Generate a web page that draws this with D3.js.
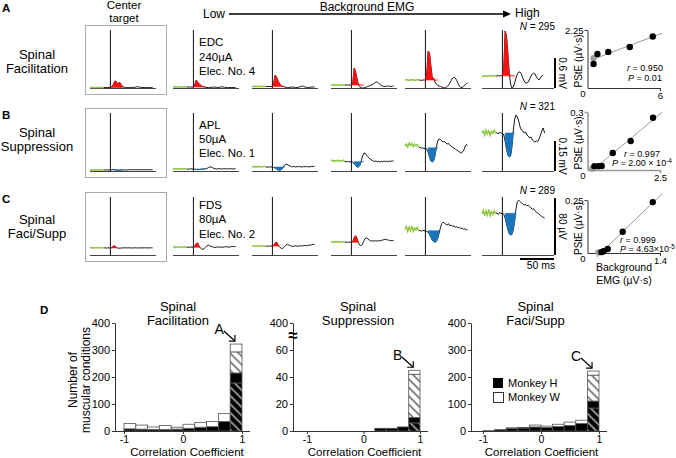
<!DOCTYPE html>
<html><head><meta charset="utf-8">
<script src="https://cdn.jsdelivr.net/npm/d3@7"></script>
<style>body{margin:0;background:#fff}svg{display:block;font-family:"Liberation Sans",Arial,sans-serif}</style>
</head><body><svg id="c" width="676" height="458"></svg>
<script>
// ---------------- DATA ----------------
const rowLetters = ["A", "B", "C"];
const rowLabels = [["Spinal", "Facilitation"], ["Spinal", "Suppression"], ["Spinal", "Faci/Supp"]];
const stimLabels = [["EDC", "240µA", "Elec. No. 4"], ["APL", "50µA", "Elec. No. 1"], ["FDS", "80µA", "Elec. No. 2"]];
const nValues = [295, 321, 289];
const scaleBarValues = [0.6, 0.15, 80];
const scaleBarLabels = ["0.6 mV", "0.15 mV", "80 µV"];
const timeStart = -30, timeStep = 2; // ms, sample grid of the averaged EMG traces

// Row A (mV)
const traceA0 = [0.01,0.01,0.012,0.01,0.008,0.01,0.012,0.01,0.01,0.012,0.01, 0.01,0.01,0.012,0.01,0.01, 0.02,0.06,0.13,0.14,0.09,0.1,0.11,0.06,0.03,0.015, 0.01,0.01,0.008,0.01,0.01,0.012,0.01,0.015,0.02,0.03,0.02,0.015,0.01,0.01,0.012,0.01,0.01,0.012,0.01,0.01,0.01];
const traceA1 = [0.02,0.02,0.025,0.02,0.02,0.025,0.02,0.02,0.025,0.02,0.02, 0.02,0.02,0.02,0.02,0.02, 0.06,0.16,0.13,0.09,0.06,0.04,0.03,0.02,0.015,0.01, 0.01,0.01,0.015,0.015,0.02,0.015,0.01,0.01,0.015,0.02,0.025,0.02,0.015,0.01,0.01,0.01,0.01,0.01,0.01,0.01,0.01];
const traceA2 = [0.03,0.03,0.035,0.03,0.03,0.035,0.03,0.03,0.035,0.03,0.03, 0.03,0.03,0.03,0.03,0.03, 0.1,0.26,0.22,0.15,0.1,0.06,0.04,0.03,0.02,0.015, 0.01,0.01,0.015,0.015,0.02,0.015,0.01,0.01,0.015,0.02,0.03,0.04,0.03,0.02,0.015,0.01,0.01,0.015,0.02,0.02,0.02];
const traceA3 = [0.06,0.06,0.065,0.06,0.055,0.06,0.065,0.06,0.06,0.065,0.06, 0.06,0.06,0.06,0.06,0.06, 0.1,0.4,0.34,0.2,0.08,0.03,0.01,0.0,0.0,0.01,0.02,0.03,0.04,0.05,0.06,0.08,0.1,0.12,0.12,0.1,0.07,0.05,0.04,0.03,0.03,0.035,0.04,0.035,0.03,0.035,0.04];
const traceA4 = [0.16,0.17,0.16,0.15,0.16,0.17,0.16,0.15,0.16,0.17,0.16, 0.16,0.15,0.16,0.16,0.16, 0.3,0.74,0.7,0.45,0.2, 0.2,0.12,0.08,0.05,0.04,0.03,0.02,0.01,0.0,0.01,0.03,0.06,0.1,0.15,0.2,0.22,0.2,0.15,0.09,0.04,0.01,0.01,0.03,0.06,0.09,0.1];
const traceA5 = [0.24,0.23,0.25,0.24,0.23,0.25,0.24,0.25,0.24,0.25,0.24, 0.24,0.25,0.24,0.25,0.24, 0.4,1.14,1.05,0.7,0.3, 0.08,0.0,0.02,0.1,0.2,0.28,0.32,0.32,0.28,0.2,0.14,0.1,0.1,0.12,0.18,0.24,0.28,0.3,0.28,0.22,0.18,0.16,0.2,0.24,0.26];
// Row B (mV)
const traceB0 = [0.005,0.006,0.005,0.004,0.006,0.005,0.006,0.005,0.004,0.006,0.005, 0.005,0.006,0.005,0.005,0.005, 0.006,0.008,0.007,0.005,0.005,0.004,0.004,0.005,0.005,0.006,0.005,0.005,0.006,0.007,0.006,0.007,0.006,0.007,0.006,0.007,0.006,0.006,0.007,0.006,0.006,0.007,0.006,0.006,0.006,0.007,0.006];
const traceB1 = [0.01,0.012,0.009,0.011,0.01,0.012,0.009,0.011,0.01,0.012,0.01, 0.01,0.009,0.011,0.01,0.01, 0.009,0.008,0.007,0.007,0.008,0.009,0.01,0.01,0.011,0.013,0.017,0.02,0.02,0.017,0.013,0.011,0.01,0.011,0.012,0.011,0.01,0.011,0.012,0.011,0.01,0.011,0.012,0.011,0.01,0.011,0.012];
const traceB2 = [0.02,0.023,0.019,0.022,0.02,0.024,0.019,0.022,0.021,0.023,0.02, 0.02,0.019,0.021,0.02,0.02, 0.018,0.015,0.01,0.006,0.004,0.005,0.009,0.02,0.03,0.035,0.032,0.028,0.025,0.022,0.021,0.023,0.02,0.022,0.021,0.023,0.021,0.02,0.022,0.021,0.023,0.02,0.022,0.021,0.023,0.022,0.024];
const traceB3 = [0.05,0.054,0.047,0.052,0.049,0.055,0.047,0.052,0.05,0.054,0.048, 0.047,0.046,0.048,0.045,0.046, 0.044,0.038,0.028,0.021,0.02,0.026,0.045,0.07,0.088,0.09,0.08,0.072,0.065,0.058,0.055,0.05,0.048,0.05,0.046,0.049,0.045,0.048,0.046,0.05,0.047,0.049,0.046,0.05,0.048,0.051,0.049];
const traceB4 = [0.125,0.135,0.12,0.14,0.128,0.138,0.122,0.134,0.126,0.132,0.12, 0.118,0.114,0.116,0.112,0.115, 0.11,0.095,0.07,0.05,0.045,0.05,0.075,0.115,0.15,0.16,0.158,0.15,0.145,0.148,0.14,0.135,0.138,0.128,0.125,0.118,0.115,0.11,0.105,0.1,0.095,0.09,0.095,0.1,0.12,0.132,0.128];
const traceB5 = [0.19,0.2,0.18,0.205,0.185,0.2,0.178,0.198,0.188,0.205,0.19, 0.192,0.185,0.195,0.188,0.19, 0.18,0.15,0.11,0.08,0.07,0.075,0.12,0.2,0.26,0.28,0.27,0.25,0.22,0.205,0.2,0.19,0.195,0.18,0.175,0.165,0.17,0.155,0.15,0.145,0.15,0.148,0.16,0.18,0.2,0.215,0.19];
// Row C (µV)
const traceC0 = [10,10.5,9.8,10.3,10,10.4,9.9,10.2,10,10.3,10, 10,9.8,10,10,10, 10.5,12,13,11,10,9.5,9.6,10,9.8,10,10.2,9.9,10,10.1,9.8,10,9.9,10.1,10,9.8,10,10.1,9.9,10,10.2,10,10.1,9.9,10,10.1,10];
const traceC1 = [11,11.5,10.6,11.4,10.8,11.6,10.7,11.3,11,11.5,10.9, 11,10.8,11.2,11,11, 12,16,17,13,10,8.5,8,9,11,13,14,13,12,11.5,11,10.5,11,11.5,11,10.8,11.2,11,11.5,11.8,11.2,11,11.4,11.8,12,11.6,11.8];
const traceC2 = [12.5,13,12.2,13.1,12.4,13.2,12.3,12.9,12.5,13,12.4, 12.5,12.3,12.7,12.5,12.5, 13.5,17,18,15,12,10,9,10,12,14,15,14,13,12.5,12,12.5,13,12.5,12.2,12.8,13,12.6,13.2,13.5,13,13.4,14,13.8,14.5,15,15.2];
const traceC3 = [18,19,17.5,18.8,17.8,19.2,17.6,18.6,18,19,18, 18,17.8,18.2,18,18, 19,24,27,24,18,14,13,15,19,23,24,23,21,20,19.5,20,19.6,20,19.5,20.2,19.8,20.5,21,21.5,22,21.6,21,20.5,20,20.4,20];
const traceC4 = [36,40,33,39,34,41,33,38,35,39,34, 35,33,35,34,34, 33,32,29,25,21,19,18,19,23,30,38,44,46,45,43,42,44,41,42,40,41,39,40,38,39,37,38,36,37,35,36];
const traceC5 = [58,63,55,62,56,64,55,61,57,62,58, 59,57,60,58,59, 57,52,44,36,30,28,29,35,48,65,75,77,75,73,72,70,71,69,70,68,66,64,65,62,60,59,57,56,54,53,52];

const rowTraces = [
  [traceA0, traceA1, traceA2, traceA3, traceA4, traceA5],
  [traceB0, traceB1, traceB2, traceB3, traceB4, traceB5],
  [traceC0, traceC1, traceC2, traceC3, traceC4, traceC5]
];
const pseKind = [
  ["fac","fac","fac","fac","fac","fac"],
  ["sup","sup","sup","sup","sup","sup"],
  ["fac","fac","fac","fac","sup","sup"]
];
const pseWindow = [[[0,18]],[[4,18]],[[0,10],[4,20]]];

// scatter (Background EMG, PStE)
const scatterAX = [0.5, 0.82, 1.72, 3.5, 5.4];
const scatterAY = [0.93, 1.32, 1.40, 1.59, 2.0];
const scatterAGray = [0.5, 1.16];
const scatterBX = [0.24, 0.38, 0.49, 0.87, 1.49, 2.26];
const scatterBY = [0.02, 0.02, 0.021, 0.088, 0.150, 0.27];
const scatterBGray = [0.17, 0.008];
const scatterCX = [0.27, 0.31, 0.39, 0.68, 1.26];
const scatterCY = [0.004, 0.008, 0.019, 0.10, 0.24];
const scatterCGray = [0.21, 0.003];
const scatterXMax = [6, 2.5, 1.4];
const scatterYMax = [2.25, 0.3, 0.25];
const statR = ["0.950", "0.997", "0.999"];
const statP = [["0.01", null], ["2.00 × 10", "-4"], ["4.63×10", "-5"]];

// histograms (bins of correlation coefficient)
const binStarts = [-1, -0.8, -0.6, -0.4, -0.2, 0, 0.2, 0.4, 0.6, 0.8];
const facHsig = [0,0,0,0,0,0,0,0,0,178];
const facHnon = [8,7,6,6,7,10,14,16,35,37];
const facWsig = [0,0,0,0,0,0,0,0,0,78];
const facWnon = [20,15,9,14,7,15,18,19,30,29];
const supHsig = [0,0,0,0,0,0,0,0,0,6];
const supHnon = [0,0,0,0,0,0,2,2,3,4];
const supWsig = [0,0,0,0,0,0,0,0,0,32];
const supWnon = [0,0,0,0,0,0,0,0,0,3];
const fsHsig = [0,0,0,0,0,0,0,0,0,85];
const fsHnon = [1,5,10,11,15,13,17,20,28,26];
const fsWsig = [0,0,0,0,0,0,0,0,0,96];
const fsWnon = [0,0,2,2,7,5,8,13,12,15];
const histTitles = [["Spinal","Facilitation"],["Spinal","Suppression"],["Spinal","Faci/Supp"]];
const histArrowLabels = ["A","B","C"];
const histYTicks = [[0,100,200,300,400],[0,20,40,60,400],[0,100,200,300,400]];
const legendLabels = ["Monkey H", "Monkey W"];

// ---------------- DRAW ----------------
const svg = d3.select("#c");
svg.append("rect").attr("width", 676).attr("height", 458).attr("fill", "#fff");
const defs = svg.append("defs");
function hatch(id, bg, fg) {
  const p = defs.append("pattern").attr("id", id).attr("patternUnits", "userSpaceOnUse")
    .attr("width", 6).attr("height", 6).attr("patternTransform", "rotate(-45)");
  p.append("rect").attr("width", 6).attr("height", 6).attr("fill", bg);
  p.append("line").attr("x1", 3).attr("y1", 0).attr("x2", 3).attr("y2", 6).attr("stroke", fg).attr("stroke-width", 1.1);
}
hatch("hatchBlack", "#000", "#fff");
hatch("hatchWhite", "#fff", "#222");

const FONT = '"Liberation Sans", Arial, sans-serif';
function text(x, y, s, size, opts = {}) {
  const t = svg.append("text").attr("x", x).attr("y", y).text(s)
    .attr("font-size", size).attr("font-family", FONT).attr("fill", opts.fill || "#000");
  if (opts.anchor) t.attr("text-anchor", opts.anchor);
  if (opts.weight) t.attr("font-weight", opts.weight);
  if (opts.style) t.attr("font-style", opts.style);
  return t;
}

const GREEN = "#8cc63f", RED = "#ff1010", BLUE = "#1b75bc";
const rowBase = [88, 171, 255];
const colLeft = [90, 173, 252, 331, 405, 482];
const rowScalePx = [30, 30, 57];

// header
text(124, 8.5, "Center", 11.5, {anchor: "middle"});
text(124, 21.5, "target", 11.5, {anchor: "middle"});
text(203, 18, "Low", 12);
text(367, 10.5, "Background EMG", 12, {anchor: "middle"});
text(515, 17, "High", 12);
svg.append("line").attr("x1", 229).attr("x2", 505).attr("y1", 14).attr("y2", 14).attr("stroke", "#000").attr("stroke-width", 1.5);
svg.append("path").attr("d", "M503,10.5 L511,14 L503,17.5 Z").attr("fill", "#000");

rowTraces.forEach((traces, r) => {
  const base = rowBase[r];
  const y = d3.scaleLinear().domain([0, scaleBarValues[r]]).range([base, base - rowScalePx[r]]);
  const letterY = [12, 119, 203][r];
  text(2, letterY, rowLetters[r], 11.5, {weight: "bold"});
  const lab = [[58.5, 73], [136.5, 151], [223.5, 238]][r];
  text(37, lab[0], rowLabels[r][0], 13, {anchor: "middle"});
  text(37, lab[1], rowLabels[r][1], 13, {anchor: "middle"});
  const stimY = [[46, 60.5, 75], [129, 143, 157], [208.5, 223, 237.5]][r];
  stimLabels[r].forEach((s, k) => text(199, stimY[k], s, 11.5));
  const nt = text(555, [30, 110, 194][r], "", 10, {anchor: "end"});
  nt.append("tspan").attr("font-style", "italic").text("N");
  nt.append("tspan").text(" = " + nValues[r]);
  svg.append("rect").attr("x", 85.5).attr("y", base - 62.5).attr("width", 81).attr("height", 69)
    .attr("fill", "none").attr("stroke", "#aaa").attr("stroke-width", 1);

  traces.forEach((vals, c) => {
    const left = colLeft[c];
    const tx = d3.scaleLinear().domain([-30, 66]).range([left, left + 65.3]);
    const pts = vals.map((v, i) => ({t: timeStart + i * timeStep, v}));
    const g = svg.append("g");
    const xEnd = c === 5 ? 554 : left + 66;
    g.append("line").attr("x1", left).attr("x2", xEnd).attr("y1", base + 0.5).attr("y2", base + 0.5)
      .attr("stroke", "#444").attr("stroke-width", 1);
    g.append("line").attr("x1", tx(0)).attr("x2", tx(0)).attr("y1", base - 58).attr("y2", base)
      .attr("stroke", "#111").attr("stroke-width", 1);
    const line = d3.line().x(p => tx(p.t)).y(p => y(p.v));
    g.append("path").attr("d", line(pts.filter(p => p.t >= -10))).attr("fill", "none")
      .attr("stroke", "#000").attr("stroke-width", 0.9);
    g.append("path").attr("d", line(pts.filter(p => p.t <= -10))).attr("fill", "none")
      .attr("stroke", GREEN).attr("stroke-width", 1.4);
    const kind = pseKind[r][c];
    const win = pseWindow[r][kind === "sup" && r === 2 ? 1 : 0];
    const ref = d3.mean(pts.filter(p => p.t >= -10 && p.t <= 0), p => p.v);
    const wp = pts.filter(p => p.t >= win[0] && p.t <= win[1]);
    const area = d3.area().x(p => tx(p.t)).y0(y(ref))
      .y1(p => y(kind === "fac" ? Math.max(p.v, ref) : Math.min(p.v, ref)));
    const col = kind === "fac" ? RED : BLUE;
    g.append("path").attr("d", area(wp)).attr("fill", col).attr("stroke", col).attr("stroke-width", 0.6);
  });

  svg.append("line").attr("x1", 555).attr("x2", 555).attr("y1", y(0)).attr("y2", y(scaleBarValues[r]))
    .attr("stroke", "#000").attr("stroke-width", 2);
  const my = (y(0) + y(scaleBarValues[r])) / 2;
  svg.append("text").attr("transform", `translate(559,${my}) rotate(90)`).attr("text-anchor", "middle")
    .attr("font-size", 10).attr("font-family", FONT).text(scaleBarLabels[r]);
});
{
  const tx = d3.scaleLinear().domain([-30, 66]).range([0, 65.3]);
  const w = tx(50) - tx(0);
  svg.append("line").attr("x1", 554 - w).attr("x2", 554).attr("y1", 259).attr("y2", 259)
    .attr("stroke", "#000").attr("stroke-width", 2);
  text(541, 269, "50 ms", 10.5, {anchor: "middle"});
}

// scatter plots
const scData = [
  {x: scatterAX, y: scatterAY, gray: scatterAGray},
  {x: scatterBX, y: scatterBY, gray: scatterBGray},
  {x: scatterCX, y: scatterCY, gray: scatterCGray}
];
const scBase = [88, 170, 253], scTop = [30, 112, 200];
scData.forEach((d, r) => {
  const sx = d3.scaleLinear().domain([0, scatterXMax[r]]).range([587.5, 660]);
  const sy = d3.scaleLinear().domain([0, scatterYMax[r]]).range([scBase[r], scTop[r]]);
  const axisCol = r === 1 ? "#999" : "#333";
  const ga = svg.append("g").attr("transform", `translate(587.5,0)`)
    .call(d3.axisLeft(sy).tickValues([scatterYMax[r]]).tickSize(3).tickSizeOuter(0).tickPadding(1).tickFormat(v => String(v)));
  const gb = svg.append("g").attr("transform", `translate(0,${scBase[r]})`)
    .call(d3.axisBottom(sx).tickValues([scatterXMax[r]]).tickSize(3).tickSizeOuter(0).tickPadding(1).tickFormat(v => String(v)));
  [ga, gb].forEach(g => {
    g.selectAll("path,line").attr("stroke", axisCol).attr("stroke-width", r === 1 ? 1.6 : 1);
    g.selectAll("text").attr("font-size", 9.5).attr("font-family", FONT).attr("fill", "#000");
  });
  text(583, scBase[r] + 9, "0", 9.5, {anchor: "middle"});
  const xs = d.x.concat([d.gray[0]]), ys = d.y.concat([d.gray[1]]);
  const mx = d3.mean(xs), my = d3.mean(ys);
  const slope = d3.sum(xs, (v, i) => (v - mx) * (ys[i] - my)) / d3.sum(xs, v => (v - mx) * (v - mx));
  const icpt = my - slope * mx;
  const x0 = d.gray[0] * 0.8, x1 = scatterXMax[r] * 1.03;
  svg.append("line").attr("x1", sx(x0)).attr("y1", sy(icpt + slope * x0)).attr("x2", sx(x1)).attr("y2", sy(icpt + slope * x1))
    .attr("stroke", "#999").attr("stroke-width", 1);
  svg.append("circle").attr("cx", sx(d.gray[0])).attr("cy", sy(d.gray[1])).attr("r", 3.2).attr("fill", "#9a9a9a");
  d.x.forEach((v, i) => svg.append("circle").attr("cx", sx(v)).attr("cy", sy(d.y[i])).attr("r", 3.2).attr("fill", "#000"));
  const cy = (scBase[r] + scTop[r]) / 2 + 2;
  svg.append("text").attr("transform", `translate(582,${cy}) rotate(-90)`).attr("text-anchor", "middle")
    .attr("font-size", 10).attr("font-family", FONT).text("PStE (µV·s)");
  const pos = [{x: 645, a: "middle", ry: 71, py: 80.5}, {x: 642, a: "middle", ry: 156.5, py: 166}, {x: 620, a: "start", ry: 242.5, py: 252}][r];
  const rt = text(pos.x, pos.ry, "", 9, {anchor: pos.a});
  rt.append("tspan").attr("font-style", "italic").text("r");
  rt.append("tspan").text(" = " + statR[r]);
  const pt = text(pos.x, pos.py, "", 9, {anchor: pos.a});
  pt.append("tspan").attr("font-style", "italic").text("P");
  pt.append("tspan").text(" = " + statP[r][0]);
  if (statP[r][1]) pt.append("tspan").attr("dy", -3.5).attr("font-size", 6.5).text(statP[r][1]);
});
text(624, 271, "Background", 10.5, {anchor: "middle"});
text(624, 284, "EMG (µV·s)", 10.5, {anchor: "middle"});

// ---------------- Panel D histograms ----------------
text(40, 314, "D", 11.5, {weight: "bold"});
svg.append("text").attr("transform", "translate(77,380) rotate(-90)").attr("text-anchor", "middle")
  .attr("font-size", 12).attr("font-family", FONT).text("Number of");
svg.append("text").attr("transform", "translate(90,380) rotate(-90)").attr("text-anchor", "middle")
  .attr("font-size", 12).attr("font-family", FONT).text("muscular conditions");

const hists = [
  {hs: facHsig, hn: facHnon, ws: facWsig, wn: facWnon, ax: 115, xr: [124, 242], ydom: [0, 400], yr: [431, 323], tc: 178, lc: 187},
  {hs: supHsig, hn: supHnon, ws: supWsig, wn: supWnon, ax: 293, xr: [307, 420], ydom: [0, 60, 400], yr: [431, 350, 323], tc: 358, lc: 364.5},
  {hs: fsHsig, hn: fsHnon, ws: fsWsig, wn: fsWnon, ax: 471, xr: [483, 599], ydom: [0, 400], yr: [431, 323], tc: 535.5, lc: 541.5}
];
hists.forEach((h, k) => {
  const hx = d3.scaleLinear().domain([-1, 1]).range(h.xr);
  const hy = d3.scaleLinear().domain(h.ydom).range(h.yr);
  text(h.tc, 311, histTitles[k][0], 13, {anchor: "middle"});
  text(h.tc, 325, histTitles[k][1], 13, {anchor: "middle"});
  binStarts.forEach((b, i) => {
    const segs = [[h.hs[i], "url(#hatchBlack)"], [h.hn[i], "#000"], [h.ws[i], "url(#hatchWhite)"], [h.wn[i], "#fff"]];
    let acc = 0;
    const x0 = hx(b), x1 = hx(b + 0.2);
    segs.forEach(([v, fill]) => {
      if (v <= 0) return;
      svg.append("rect").attr("x", x0).attr("width", x1 - x0)
        .attr("y", hy(acc + v)).attr("height", hy(acc) - hy(acc + v))
        .attr("fill", fill).attr("stroke", "#555").attr("stroke-width", 0.8);
      acc += v;
    });
  });
  const gy = svg.append("g").attr("transform", `translate(${h.ax},0)`)
    .call(d3.axisLeft(hy).tickValues(histYTicks[k]).tickSize(3).tickSizeOuter(0).tickPadding(2).tickFormat(v => String(v)));
  const gx = svg.append("g").attr("transform", `translate(0,431)`)
    .call(d3.axisBottom(hx).tickValues([-1, 0, 1]).tickSize(3).tickSizeOuter(0).tickPadding(2).tickFormat(v => String(v)));
  gx.select(".domain").remove();
  svg.append("line").attr("x1", h.ax).attr("x2", hx(1) + 8).attr("y1", 431.5).attr("y2", 431.5).attr("stroke", "#333").attr("stroke-width", 1);
  gy.selectAll("text").attr("font-size", 11);
  gx.selectAll("text").attr("font-size", 10.5);
  [gx, gy].forEach(g => {
    g.selectAll("path,line").attr("stroke", "#333");
    g.selectAll("text").attr("font-family", FONT).attr("fill", "#000");
  });
  text(h.lc, 455.5, "Correlation Coefficient", 11.5, {anchor: "middle"});
  const last = binStarts.length - 1;
  const tot = h.hs[last] + h.hn[last] + h.ws[last] + h.wn[last];
  const tipX = hx(0.88), tipY = hy(tot) - 3;
  const sX = tipX - 11, sY = tipY - 10;
  svg.append("line").attr("x1", sX).attr("y1", sY).attr("x2", tipX).attr("y2", tipY).attr("stroke", "#000").attr("stroke-width", 1.2);
  svg.append("path").attr("d", `M${tipX - 6},${tipY} L${tipX},${tipY} L${tipX},${tipY - 6}`)
    .attr("fill", "none").attr("stroke", "#000").attr("stroke-width", 1.2);
  text(sX, sY + 3, histArrowLabels[k], 14, {anchor: "end"});
  if (k === 1) {
    svg.append("text").attr("x", h.ax).attr("y", 341).attr("text-anchor", "middle")
      .attr("font-size", 17).attr("font-weight", "bold").attr("font-family", FONT).text("≈");
  }
});
svg.append("rect").attr("x", 493).attr("y", 378).attr("width", 10).attr("height", 10).attr("fill", "#000");
svg.append("rect").attr("x", 493.5).attr("y", 392.5).attr("width", 10).attr("height", 10).attr("fill", "#fff").attr("stroke", "#333");
text(508, 387, legendLabels[0], 11);
text(508, 401, legendLabels[1], 11);
</script></body></html>
